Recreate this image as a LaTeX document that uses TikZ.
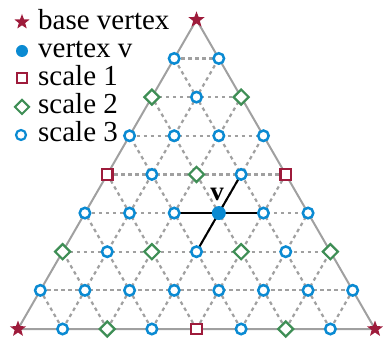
\documentclass[tikz,border=0pt]{standalone}
\usepackage{fontspec}
\setmainfont{Liberation Serif}
\usetikzlibrary{shapes.geometric}
\definecolor{starred}{HTML}{9E1B3B}
\definecolor{vblue}{HTML}{0A8AD2}
\definecolor{dgreen}{HTML}{3E8E55}
\definecolor{gridgray}{HTML}{A0A0A0}
\tikzset{
  basev/.style={star,star points=5,star point ratio=2.4,fill=starred,draw=none,inner sep=0pt,minimum size=17pt},
  vmark/.style={circle,fill=vblue,draw=none,inner sep=0pt,minimum size=14pt},
  scaleone/.style={rectangle,draw=starred,fill=white,line width=2.2pt,inner sep=0pt,minimum size=10.5pt},
  scaletwo/.style={diamond,draw=dgreen,fill=white,line width=2.2pt,inner sep=0pt,minimum size=16pt},
  scalethree/.style={circle,draw=vblue,fill=white,line width=2.5pt,inner sep=0pt,minimum size=10.5pt},
  gridline/.style={draw=gridgray,line width=2.2pt,dash pattern=on 3.5pt off 3.5pt},
  outline/.style={draw=gridgray,line width=2pt},
  vedge/.style={draw=black,line width=2pt},
  legtext/.style={anchor=base west,inner sep=0pt,font=\fontsize{29}{29}\selectfont}
}
\begin{document}
\begin{tikzpicture}[x=1pt,y=-1pt]
\useasboundingbox (0,0) rectangle (383,339);
% grid coordinates
\foreach \k in {0,...,8}{
  \pgfmathtruncatemacro{\jmax}{8-\k}
  \foreach \j in {0,...,\jmax}{
    \coordinate (c-\k-\j) at ({18+\k*22.3125+\j*44.625},{329-\k*38.647});
  }
}
% dashed grid lines
\foreach \m in {1,...,7}{
  \pgfmathtruncatemacro{\r}{8-\m}
  \draw[gridline] (c-\m-0) -- (c-\m-\r);
  \draw[gridline] (c-0-\m) -- (c-\r-\m);
  \draw[gridline] (c-0-\m) -- (c-\m-0);
}
% outline
\draw[outline] (c-0-0) -- (c-0-8) -- (c-8-0) -- cycle;
% edges of v
\draw[vedge] (c-3-3) -- (c-3-2);
\draw[vedge] (c-3-3) -- (c-3-4);
\draw[vedge] (c-3-3) -- (c-4-3);
\draw[vedge] (c-3-3) -- (c-2-3);
% markers
\foreach \k in {0,...,8}{
  \pgfmathtruncatemacro{\jmax}{8-\k}
  \foreach \j in {0,...,\jmax}{
    \pgfmathtruncatemacro{\i}{8-\k-\j}
    \pgfmathtruncatemacro{\isbase}{(\k==8)||(\j==8)||(\i==8)}
    \pgfmathtruncatemacro{\isone}{(mod(\k,4)==0)&&(mod(\j,4)==0)}
    \pgfmathtruncatemacro{\istwo}{(mod(\k,2)==0)&&(mod(\j,2)==0)}
    \pgfmathtruncatemacro{\isv}{(\k==3)&&(\j==3)}
    \ifnum\isbase=1
      \node[basev] (p-\k-\j) at (c-\k-\j) {};
    \else\ifnum\isv=1
      \node[vmark] (p-\k-\j) at (c-\k-\j) {};
    \else\ifnum\isone=1
      \node[scaleone] (p-\k-\j) at (c-\k-\j) {};
    \else\ifnum\istwo=1
      \node[scaletwo] (p-\k-\j) at (c-\k-\j) {};
    \else
      \node[scalethree] (p-\k-\j) at (c-\k-\j) {};
    \fi\fi\fi\fi
  }
}
\node[font=\fontsize{27}{27}\selectfont\bfseries,anchor=base,inner sep=0pt] (vlabel) at (217,201) {v};
% legend
\node[basev,minimum size=16pt] (l1) at (22,22) {};
\node[vmark,minimum size=12pt] (l2) at (22,51) {};
\node[scaleone,minimum size=10pt,line width=2pt] (l3) at (22,78) {};
\node[scaletwo,minimum size=15pt,line width=2pt] (l4) at (22,107) {};
\node[scalethree,minimum size=10pt,line width=2.2pt] (l5) at (21,135) {};
\node[legtext] (t1) at (38,30) {base vertex};
\node[legtext] (t2) at (38,58) {vertex v};
\node[legtext] (t3) at (38,86) {scale 1};
\node[legtext] (t4) at (38,114) {scale 2};
\node[legtext] (t5) at (38,142) {scale 3};
\end{tikzpicture}
\end{document}
